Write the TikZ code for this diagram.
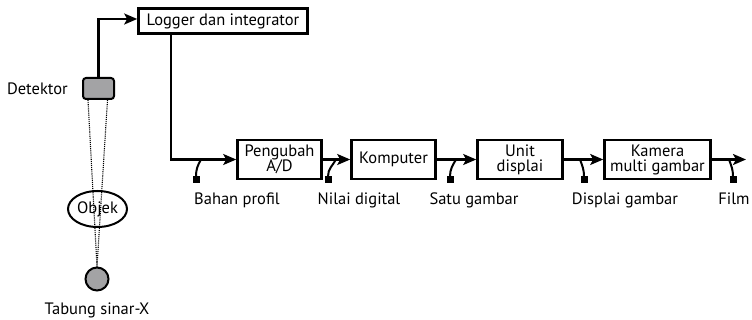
\documentclass[tikz,border=0pt]{standalone}
\usepackage{fontspec}
\setmainfont{PT Sans}
\usetikzlibrary{arrows.meta,shapes.geometric,positioning}
\definecolor{detGray}{HTML}{A3A3A5}
\begin{document}
\begin{tikzpicture}[x=1pt,y=-1pt, every node/.style={font=\fontsize{16.5}{17}\selectfont},
  blok/.style={draw, line width=2.6pt, align=center, inner sep=1pt, minimum height=39pt},
  flow/.style={line width=2.2pt, -{Stealth[length=13pt,width=11pt,inset=3pt]}},
  tap/.style={line width=2pt},
  plug/.style={fill=black, minimum size=7pt, inner sep=0pt},
  ket/.style={below=4pt, inner sep=1pt}]
  \useasboundingbox (0,0) rectangle (752,320);
  % sumber, objek dan detektor
  \node[draw, line width=2pt, rounded corners=3pt, fill=detGray, minimum width=31pt, minimum height=21pt] (det) at (98.5,88.5) {};
  \node[left=13pt of det, inner sep=1pt] (detlbl) {Detektor};
  \node[draw, ellipse, line width=2pt, minimum width=59pt, minimum height=36pt, inner sep=0pt] (objek) at (97.5,209) {Objek};
  \node[draw, circle, line width=2pt, fill=detGray, minimum size=23pt, inner sep=0pt] (tabung) at (97,279) {};
  \node[below=10pt of tabung, inner sep=1pt] (tabunglbl) {Tabung sinar-X};
  \draw[densely dotted, line width=1.1pt] ([xshift=-10.5pt]det.south) -- (tabung.north);
  \draw[densely dotted, line width=1.1pt] ([xshift=9pt]det.south) -- (tabung.north);
  % rantai pengolahan
  \node[blok, minimum width=169pt, minimum height=25pt] (logger) at (223,21) {Logger dan integrator};
  \node[blok, minimum width=84pt] (ad) at (279.5,159.5) {Pengubah\\[-2pt]A/D};
  \node[blok, minimum width=84pt] (komp) at (393.5,159.5) {Komputer};
  \node[blok, minimum width=85pt] (unit) at (520,159.5) {Unit\\[-2pt]displai};
  \node[blok, minimum width=106pt] (kamera) at (657.5,159.5) {Kamera\\[-2pt]multi gambar};
  \coordinate (filmend) at (746,159.5);
  \draw[flow] (det.north) |- ([yshift=2pt]logger.west);
  \draw[flow] ([xshift=34pt]logger.south west) |- (ad.west);
  \draw[flow] (ad) -- (komp);
  \draw[flow] (komp) -- (unit);
  \draw[flow] (unit) -- (kamera);
  \draw[flow] (kamera) -- (filmend);
  % titik keluaran
  \foreach \nm/\tx/\px/\lbl/\lx/\ang in {
    bahan/201/196/{Bahan profil}/237/240,
    nilai/336/328/{Nilai digital}/359/240,
    satu/456/450/{Satu gambar}/474/240,
    displai/580/584/{Displai gambar}/625/-70,
    film/729/733/{Film}/734/-70}{
    \coordinate (t\nm) at (\tx,159.5);
    \node[plug] (p\nm) at (\px,180) {};
    \draw[tap] (t\nm) to[out=\ang, in=90] (p\nm.north);
    \node[ket] (l\nm) at (\lx,188) {\lbl};
  }
\end{tikzpicture}
\end{document}
